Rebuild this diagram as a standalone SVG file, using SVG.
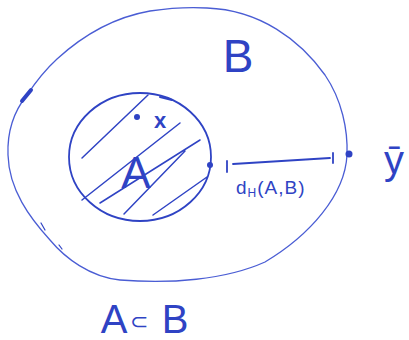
<svg xmlns="http://www.w3.org/2000/svg" width="409" height="340" viewBox="0 0 409 340">
<style>
.ink{fill:none;stroke:#2f43c4;stroke-linecap:round;stroke-linejoin:round}
.thin{stroke-width:1.3;stroke:#4a5dd4}
.med{stroke-width:1.8}
.hatch{stroke-width:1.5}
.lbl{fill:#2f43c4;font-family:"Liberation Sans",Arial,sans-serif}
.dot{fill:#2f43c4}
</style>
<rect width="409" height="340" fill="#ffffff"/>
<g id="B">
<path class="ink thin" d="M207 8 C260 10 300 40 325 75 C342 100 348 130 347 155 C345 195 310 235 265 262 C225 280 170 284 120 280 C90 277 65 258 50 240 C30 218 9 190 8 155 C7 130 15 110 27 95 C35 83 45 70 57 59 C80 38 110 18 150 11 C170 8 190 7 207 8 Z"/>
<path class="ink" stroke-width="4" d="M22 101 L31 90"/>
<path class="ink" stroke-width="1.2" stroke="#555" d="M41 223 L45 230 M59 245 L62 249"/>
<text class="lbl" x="238" y="72" font-size="46" text-anchor="middle">B</text>
</g>
<g id="A">
<ellipse class="ink med" cx="140" cy="157" rx="71" ry="64"/>
<path class="ink hatch" d="M148 95 L82 158 M180 123 L82 200 M200 140 L100 203 M185 151 L124 214 M207 177 L153 215"/>
<path class="ink" stroke-width="2" d="M160 97 L172 100"/>
<circle class="dot" cx="137" cy="117" r="3"/>
<text class="lbl" x="160" y="128" font-size="22" font-weight="bold" text-anchor="middle">x</text>
<text class="lbl" x="136" y="188" font-size="44" text-anchor="middle">A</text>
</g>
<g id="connectors">
<circle class="dot" cx="210" cy="165" r="3"/>
<path class="ink med" d="M227 161 L227 172 M233 164 L330 158 M333 153 L333 163"/>
<circle class="dot" cx="349" cy="154" r="3.5"/>
<text class="lbl" x="236" y="194" font-size="19" letter-spacing="1">d<tspan font-size="12" dy="3">H</tspan><tspan dy="-3">(A,B)</tspan></text>
</g>
<g id="y">
<text class="lbl" x="394" y="174" font-size="40" text-anchor="middle">ȳ</text>
</g>
<g id="caption">
<text class="lbl" x="114" y="333" font-size="40" text-anchor="middle">A</text>
<text class="lbl" x="139" y="329" font-size="22" text-anchor="middle">⊂</text>
<text class="lbl" x="175" y="333" font-size="40" text-anchor="middle">B</text>
</g>
</svg>
